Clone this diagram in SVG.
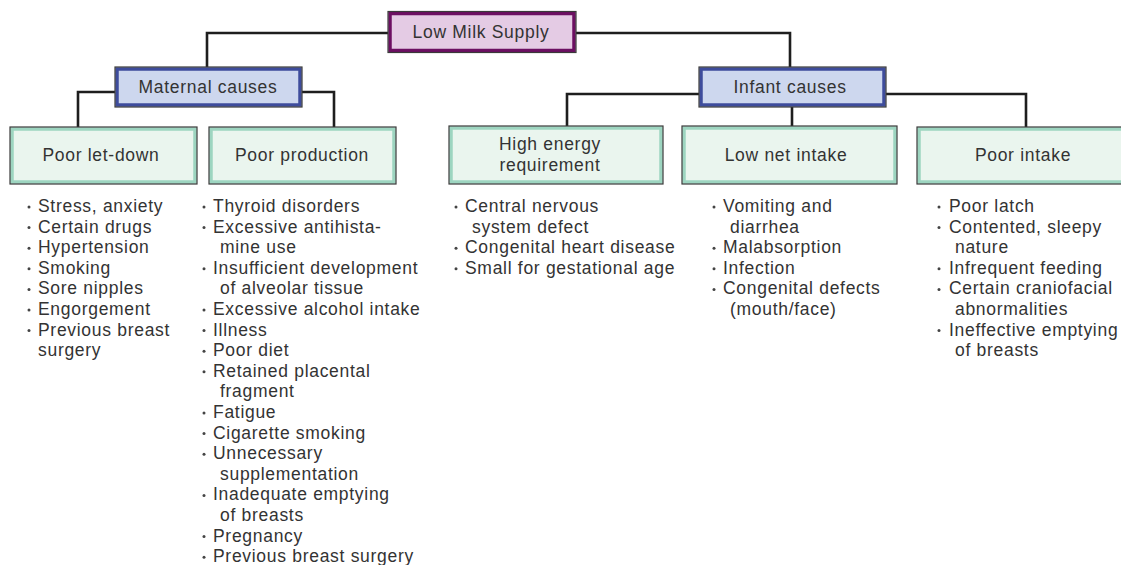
<svg xmlns="http://www.w3.org/2000/svg" width="1121" height="565" viewBox="0 0 1121 565">
<style>
text{font-family:"Liberation Sans",Arial,sans-serif;font-size:17.5px;fill:#333;letter-spacing:0.7px}
.c{text-anchor:middle}
.outer{fill:none;stroke:#3a3a3a;stroke-width:1.2}
.top{fill:#e4cbe4;stroke:#6c0f62;stroke-width:3.5}
.mid{fill:#cdd7ee;stroke:#3e4c9c;stroke-width:3.5}
.leaf{fill:#eaf5ee;stroke:#9dd5c0;stroke-width:3.5}
.conn{fill:none;stroke:#1e1e1e;stroke-width:2.6}
.dot{fill:#444}
</style>
<g id="connectors">
<path class="conn" d="M388,33 H207 V67"/>
<path class="conn" d="M576,33 H790 V67"/>
<path class="conn" d="M115,92 H78 V127"/>
<path class="conn" d="M302,92 H334 V127"/>
<path class="conn" d="M699,94 H567 V126"/>
<path class="conn" d="M792,107 V126"/>
<path class="conn" d="M886,94 H1026 V127"/>
</g>
<g id="low-milk-supply">
<rect class="top" x="390" y="13.5" width="184" height="37"/>
<rect class="outer" x="388" y="11.5" width="188" height="41"/>
<text class="c" x="481" y="38">Low Milk Supply</text>
</g>
<g id="maternal-causes">
<rect class="mid" x="117" y="69" width="183" height="36"/>
<rect class="outer" x="115" y="67" width="187" height="40"/>
<text class="c" x="208" y="93">Maternal causes</text>
</g>
<g id="infant-causes">
<rect class="mid" x="701" y="69" width="183" height="36"/>
<rect class="outer" x="699" y="67" width="187" height="40"/>
<text class="c" x="790" y="93">Infant causes</text>
</g>
<g id="poor-let-down">
<rect class="leaf" x="12" y="129" width="183" height="53"/>
<rect class="outer" x="10" y="127" width="187" height="57"/>
<text class="c" x="101" y="161">Poor let-down</text>
<circle class="dot" cx="29" cy="207" r="1.5"/><text x="38" y="212">Stress, anxiety</text>
<circle class="dot" cx="29" cy="227.6" r="1.5"/><text x="38" y="232.6">Certain drugs</text>
<circle class="dot" cx="29" cy="248.2" r="1.5"/><text x="38" y="253.2">Hypertension</text>
<circle class="dot" cx="29" cy="268.8" r="1.5"/><text x="38" y="273.8">Smoking</text>
<circle class="dot" cx="29" cy="289.4" r="1.5"/><text x="38" y="294.4">Sore nipples</text>
<circle class="dot" cx="29" cy="310" r="1.5"/><text x="38" y="315">Engorgement</text>
<circle class="dot" cx="29" cy="330.6" r="1.5"/><text x="38" y="335.6">Previous breast</text>
<text x="38" y="356.2">surgery</text>
</g>
<g id="poor-production">
<rect class="leaf" x="211" y="129" width="183" height="53"/>
<rect class="outer" x="209" y="127" width="187" height="57"/>
<text class="c" x="302" y="161">Poor production</text>
<circle class="dot" cx="204" cy="207" r="1.5"/><text x="213" y="212">Thyroid disorders</text>
<circle class="dot" cx="204" cy="227.6" r="1.5"/><text x="213" y="232.6">Excessive antihista-</text>
<text x="220" y="253.2">mine use</text>
<circle class="dot" cx="204" cy="268.8" r="1.5"/><text x="213" y="273.8">Insufficient development</text>
<text x="220" y="294.4">of alveolar tissue</text>
<circle class="dot" cx="204" cy="310" r="1.5"/><text x="213" y="315">Excessive alcohol intake</text>
<circle class="dot" cx="204" cy="330.6" r="1.5"/><text x="213" y="335.6">Illness</text>
<circle class="dot" cx="204" cy="351.2" r="1.5"/><text x="213" y="356.2">Poor diet</text>
<circle class="dot" cx="204" cy="371.8" r="1.5"/><text x="213" y="376.8">Retained placental</text>
<text x="220" y="397.4">fragment</text>
<circle class="dot" cx="204" cy="413" r="1.5"/><text x="213" y="418">Fatigue</text>
<circle class="dot" cx="204" cy="433.6" r="1.5"/><text x="213" y="438.6">Cigarette smoking</text>
<circle class="dot" cx="204" cy="454.2" r="1.5"/><text x="213" y="459.2">Unnecessary</text>
<text x="220" y="479.8">supplementation</text>
<circle class="dot" cx="204" cy="495.4" r="1.5"/><text x="213" y="500.4">Inadequate emptying</text>
<text x="220" y="521">of breasts</text>
<circle class="dot" cx="204" cy="536.6" r="1.5"/><text x="213" y="541.6">Pregnancy</text>
<circle class="dot" cx="204" cy="557.2" r="1.5"/><text x="213" y="562.2">Previous breast surgery</text>
</g>
<g id="high-energy-requirement">
<rect class="leaf" x="451" y="128" width="210" height="54"/>
<rect class="outer" x="449" y="126" width="214" height="58"/>
<text class="c" x="550" y="150">High energy</text>
<text class="c" x="550" y="171">requirement</text>
<circle class="dot" cx="456" cy="207" r="1.5"/><text x="465" y="212">Central nervous</text>
<text x="472" y="232.6">system defect</text>
<circle class="dot" cx="456" cy="248.2" r="1.5"/><text x="465" y="253.2">Congenital heart disease</text>
<circle class="dot" cx="456" cy="268.8" r="1.5"/><text x="465" y="273.8">Small for gestational age</text>
</g>
<g id="low-net-intake">
<rect class="leaf" x="684" y="128" width="211" height="54"/>
<rect class="outer" x="682" y="126" width="215" height="58"/>
<text class="c" x="786" y="161">Low net intake</text>
<circle class="dot" cx="714" cy="207" r="1.5"/><text x="723" y="212">Vomiting and</text>
<text x="730" y="232.6">diarrhea</text>
<circle class="dot" cx="714" cy="248.2" r="1.5"/><text x="723" y="253.2">Malabsorption</text>
<circle class="dot" cx="714" cy="268.8" r="1.5"/><text x="723" y="273.8">Infection</text>
<circle class="dot" cx="714" cy="289.4" r="1.5"/><text x="723" y="294.4">Congenital defects</text>
<text x="730" y="315">(mouth/face)</text>
</g>
<g id="poor-intake">
<rect class="leaf" x="919" y="129" width="210" height="53"/>
<rect class="outer" x="917" y="127" width="214" height="57"/>
<text class="c" x="1023" y="161">Poor intake</text>
<circle class="dot" cx="939" cy="207" r="1.5"/><text x="949" y="212">Poor latch</text>
<circle class="dot" cx="939" cy="227.6" r="1.5"/><text x="949" y="232.6">Contented, sleepy</text>
<text x="955" y="253.2">nature</text>
<circle class="dot" cx="939" cy="268.8" r="1.5"/><text x="949" y="273.8">Infrequent feeding</text>
<circle class="dot" cx="939" cy="289.4" r="1.5"/><text x="949" y="294.4">Certain craniofacial</text>
<text x="955" y="315">abnormalities</text>
<circle class="dot" cx="939" cy="330.6" r="1.5"/><text x="949" y="335.6">Ineffective emptying</text>
<text x="955" y="356.2">of breasts</text>
</g>
</svg>
